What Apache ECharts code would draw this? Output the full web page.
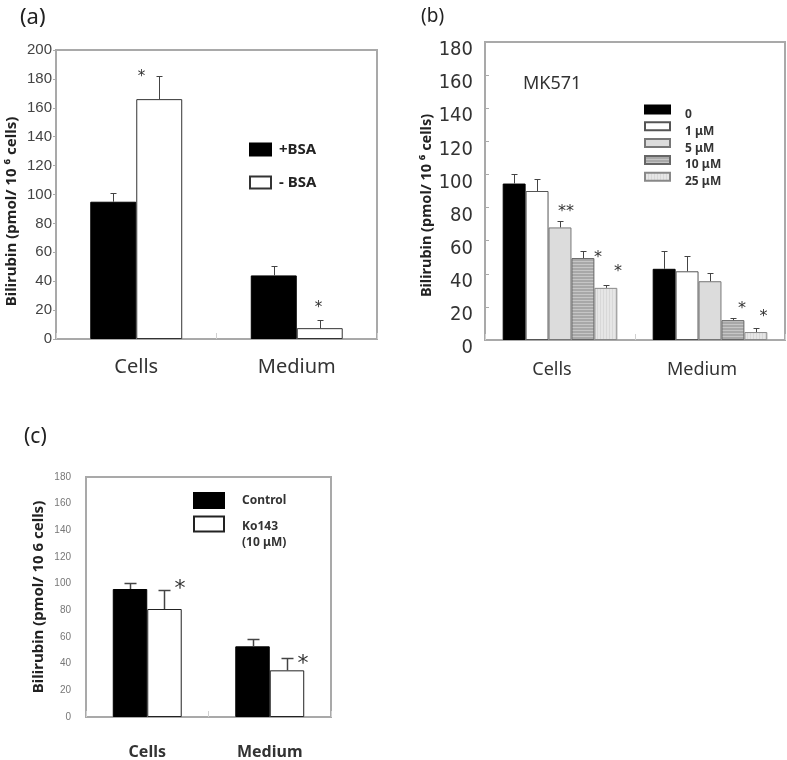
<!DOCTYPE html>
<html><head><meta charset="utf-8">
<script src="https://cdn.jsdelivr.net/npm/echarts@6/dist/echarts.min.js"></script>
<style>html,body{margin:0;padding:0;background:#fff}#c{width:787px;height:760px}</style>
</head><body><div id="c"></div>
<script>
// ---------- data ----------
const categories = ['Cells', 'Medium'];

// panel (a)
const aNames = ['+BSA', '- BSA'];
const aPlusBSA = [95, 44];
const aPlusBSAErr = [6, 6.5];
const aMinusBSA = [166, 7.5];
const aMinusBSAErr = [16, 5.5];
const aSig = [['', ''], ['*', '*']];

// panel (b) MK571
const bNames = ['0', '1 μM', '5 μM', '10 μM', '25 μM'];
const b0 = [94.5, 43];     const b0Err = [5.5, 11];
const b1 = [90, 41.5];     const b1Err = [7, 9];
const b5 = [68, 35.5];     const b5Err = [4, 5];
const b10 = [49.5, 12];    const b10Err = [4, 1];
const b25 = [31.5, 4.8];   const b25Err = [2, 2.2];
const bSig = [['', ''], ['', ''], ['**', ''], ['*', '*'], ['*', '*']];

// panel (c) Ko143
const cNames = ['Control', 'Ko143\n(10 μM)'];
const cControl = [96, 53];  const cControlErr = [4.5, 5.5];
const cKo = [81, 35];       const cKoErr = [14, 9];
const cSig = [['', ''], ['*', '*']];

// ---------- styling (pixel offsets of significance marks relative to error-bar top) ----------
const aSigOff = [[null, null], [[-18, -4], [-2, -17]]];
const bSigOff = [[null, null], [null, null], [[5.5, -14], null], [[14.5, 2], [8.5, -14]], [[11.5, -18], [7, -16]]];
const cSigOff = [[null, null], [[15.5, -7], [15.5, 0]]];

function stripes(w, h, bg, fg, horizontal) {
  const cv = document.createElement('canvas');
  cv.width = w; cv.height = h;
  const ctx = cv.getContext('2d');
  ctx.fillStyle = bg; ctx.fillRect(0, 0, w, h);
  ctx.fillStyle = fg;
  if (horizontal) ctx.fillRect(0, 0, w, 1); else ctx.fillRect(0, 0, 1, h);
  return { image: cv, repeat: 'repeat' };
}

const FONT = 'Noto Sans';
const NARROW = '"Liberation Sans Narrow", "DejaVu Sans Condensed", "Roboto Condensed", "Liberation Sans", sans-serif';
const FRAME = '#a9a9a9';

function errSeries(gi, vals, errs, sigs, offs, gapRatio, capW, sigFont, lineW) {
  const n = vals.length;
  const data = [];
  for (let s = 0; s < n; s++) for (let c = 0; c < categories.length; c++) data.push([c, s, vals[s][c], errs[s][c]]);
  return {
    type: 'custom', xAxisIndex: gi, yAxisIndex: gi, z: 5, silent: true,
    encode: { x: 0, y: 2 },
    data: data,
    renderItem: function (params, api) {
      const c = api.value(0), s = api.value(1), v = api.value(2), e = api.value(3);
      const band = api.size([1, 0])[0];
      const total = band * (1 - gapRatio);
      const bw = total / n;
      const cx = api.coord([c, 0])[0];
      const x = Math.round(cx - total / 2 + (s + 0.5) * bw) + 0.5;
      const y0 = api.coord([c, v])[1];
      const y1 = Math.round(api.coord([c, v + e])[1]) + 0.5;
      const st = { stroke: '#444', lineWidth: lineW };
      const children = [
        { type: 'line', shape: { x1: x, y1: y0, x2: x, y2: y1 }, style: st },
        { type: 'line', shape: { x1: x - capW / 2, y1: y1, x2: x + capW / 2, y2: y1 }, style: st }
      ];
      const sig = sigs[s][c];
      const off = offs[s][c];
      if (sig && off) {
        children.push({ type: 'text', style: {
          text: sig, x: x + off[0], y: y1 + off[1] + sigFont * 0.28,
          align: 'center', verticalAlign: 'middle',
          font: sigFont + 'px "DejaVu Sans"', fill: '#333'
        }});
      }
      return { type: 'group', children: children };
    }
  };
}

function bar(gi, name, vals, color, border, gap) {
  return { type: 'bar', name: name, xAxisIndex: gi, yAxisIndex: gi, data: vals,
    barGap: '0%', barCategoryGap: gap,
    itemStyle: { color: color, borderColor: border, borderWidth: 1 } };
}

const chart = echarts.init(document.getElementById('c'), null, { renderer: 'canvas' });

const xCommon = (gi, fs, weight, margin, pad) => ({
  type: 'category', gridIndex: gi, data: categories,
  axisLine: { lineStyle: { color: FRAME, width: 2 } },
  axisTick: { show: true, inside: true, length: 6, lineStyle: { color: '#d0d0d0' } },
  axisLabel: { fontFamily: FONT, fontSize: fs, fontWeight: weight, color: '#333', margin: margin, padding: pad },
  splitLine: { show: false }
});

const option = {
  animation: false,
  backgroundColor: '#fff',
  title: [
    { text: '(a)', left: 15, top: 2, textStyle: { fontFamily: FONT, fontSize: 22, fontWeight: 'normal', color: '#222' } },
    { text: '(b)', left: 416, top: 2, textStyle: { fontFamily: FONT, fontSize: 19, fontWeight: 'normal', color: '#222' } },
    { text: '(c)', left: 19, top: 422, textStyle: { fontFamily: FONT, fontSize: 21, fontWeight: 'normal', color: '#222' } },
    { text: 'MK571', left: 518, top: 70, textStyle: { fontFamily: FONT, fontSize: 18, fontWeight: 'normal', color: '#333' } }
  ],
  legend: [
    { data: aNames, orient: 'vertical', left: 249, top: 142, padding: 0, itemWidth: 21, itemHeight: 12, itemGap: 18,
      icon: 'rect', selectedMode: false,
      formatter: function (name) { return '{t|' + name + '}'; },
      textStyle: { fontFamily: FONT, fontSize: 15, fontWeight: 'bold', color: '#222',
        rich: { t: { padding: [0, 0, 0, 3] } } } },
    { data: bNames, orient: 'vertical', left: 644, top: 99, padding: 0, itemWidth: 25, itemHeight: 8, itemGap: -4.7,
      icon: 'rect', selectedMode: false,
      formatter: function (name) { return '{s| }\n{t|' + name + '}'; },
      textStyle: { fontFamily: FONT, fontSize: 12, fontWeight: 'bold', color: '#333',
        rich: { s: { lineHeight: 10, fontSize: 8 }, t: { lineHeight: 13, padding: [0, 0, 0, 10] } } } },
    { data: cNames, orient: 'vertical', left: 193, top: 492, padding: 0, itemWidth: 30, itemHeight: 15, itemGap: -5,
      icon: 'rect', selectedMode: false,
      formatter: function (name) {
        const lines = name.split('\n');
        if (lines.length === 1) return '{k|' + name + '}';
        return '{s| }\n' + lines.map(l => '{k|' + l + '}').join('\n');
      },
      textStyle: { fontFamily: FONT, fontSize: 12, fontWeight: 'bold', color: '#333',
        rich: { s: { lineHeight: 21, fontSize: 8 }, k: { lineHeight: 16, padding: [0, 0, 0, 13] } } } }
  ],
  grid: [
    { left: 56, top: 50, width: 321, height: 289, show: true, borderColor: FRAME, borderWidth: 2, outerBoundsMode: 'none', containLabel: false },
    { left: 485, top: 42, width: 300, height: 298, show: true, borderColor: FRAME, borderWidth: 2, outerBoundsMode: 'none', containLabel: false },
    { left: 86, top: 477, width: 245, height: 240, show: true, borderColor: FRAME, borderWidth: 2, outerBoundsMode: 'none', containLabel: false }
  ],
  xAxis: [ xCommon(0, 20, 'normal', 18, 0), xCommon(1, 18, 'normal', 21, [0, 16, 0, 0]), xCommon(2, 16, 'bold', 27, 0) ],
  yAxis: [
    { type: 'value', gridIndex: 0, min: 0, max: 200, interval: 20,
      name: 'Bilirubin (pmol/ 10 ⁶ cells)', nameLocation: 'middle', nameGap: 37, nameRotate: 90,
      nameTextStyle: { fontFamily: FONT, fontSize: 15, fontWeight: 'bold', color: '#222', padding: [0, 34, 0, 0] },
      axisLine: { show: true, lineStyle: { color: FRAME, width: 2 } },
      axisTick: { show: true, inside: false, length: 3, lineStyle: { color: '#aaa' } },
      axisLabel: { fontFamily: 'Liberation Sans', fontSize: 15, color: '#444', margin: 4 },
      splitLine: { show: false } },
    { type: 'value', gridIndex: 1, min: 0, max: 180, interval: 20,
      name: 'Bilirubin (pmol/ 10 ⁶ cells)', nameLocation: 'middle', nameGap: 43, nameRotate: 90,
      nameTextStyle: { fontFamily: FONT, fontSize: 14.5, fontWeight: 'bold', color: '#222', padding: [0, 29, 0, 0] },
      axisLine: { show: true, lineStyle: { color: FRAME, width: 2 } },
      axisTick: { show: true, inside: true, length: 4, lineStyle: { color: '#aaa' } },
      axisLabel: { fontFamily: NARROW, fontSize: 20, color: '#333', margin: 12,
        formatter: function (v) { return '{s| }\n{v|' + v + '}'; },
        rich: { s: { lineHeight: 16, fontSize: 8 }, v: { lineHeight: 20 } } },
      splitLine: { show: false } },
    { type: 'value', gridIndex: 2, min: 0, max: 180, interval: 20,
      name: 'Bilirubin (pmol/ 10 6 cells)', nameLocation: 'middle', nameGap: 40, nameRotate: 90,
      nameTextStyle: { fontFamily: FONT, fontSize: 15, fontWeight: 'bold', color: '#222' },
      axisLine: { show: true, lineStyle: { color: FRAME, width: 2 } },
      axisTick: { show: false },
      axisLabel: { fontFamily: 'Liberation Sans', fontSize: 10, color: '#777', margin: 15 },
      splitLine: { show: false } }
  ],
  series: [
    bar(0, aNames[0], aPlusBSA, '#000', '#000', '42.7%'),
    bar(0, aNames[1], aMinusBSA, '#fff', '#333', '42.7%'),
    errSeries(0, [aPlusBSA, aMinusBSA], [aPlusBSAErr, aMinusBSAErr], aSig, aSigOff, 0.427, 6, 15, 1),

    bar(1, bNames[0], b0, '#000', '#000', '23.6%'),
    bar(1, bNames[1], b1, '#fff', '#555', '23.6%'),
    bar(1, bNames[2], b5, '#dcdcdc', '#777', '23.6%'),
    bar(1, bNames[3], b10, stripes(4, 3, '#a8a8a8', '#c6c6c6', true), '#666', '23.6%'),
    bar(1, bNames[4], b25, stripes(3, 4, '#e6e6e6', '#d8d8d8', false), '#888', '23.6%'),
    errSeries(1, [b0, b1, b5, b10, b25], [b0Err, b1Err, b5Err, b10Err, b25Err], bSig, bSigOff, 0.236, 6, 16, 1),

    bar(2, cNames[0], cControl, '#000', '#000', '43.7%'),
    bar(2, cNames[1], cKo, '#fff', '#222', '43.7%'),
    errSeries(2, [cControl, cKo], [cControlErr, cKoErr], cSig, cSigOff, 0.437, 12, 22, 1.5)
  ]
};
chart.setOption(option);
</script>
</body></html>
